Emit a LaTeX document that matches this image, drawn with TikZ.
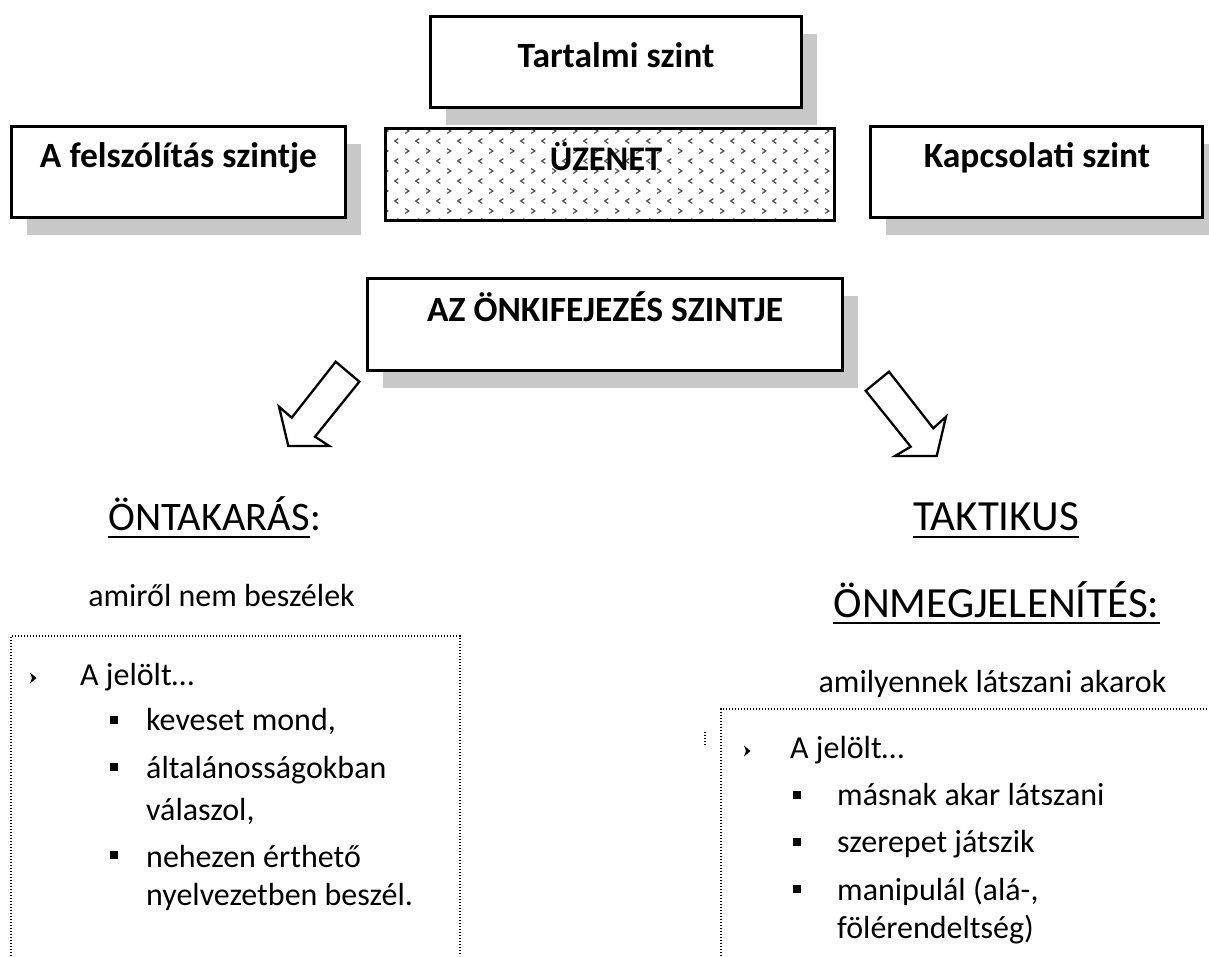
\documentclass[tikz,border=0pt]{standalone}
\usepackage{fontspec}
\setmainfont{Carlito}
\usetikzlibrary{shadows,calc}
\definecolor{shadowgray}{RGB}{200,200,200}
\definecolor{dotgray}{RGB}{85,85,85}
\begin{document}
\begin{tikzpicture}[x=1pt,y=-1pt,
  levelbox/.style={draw=black, line width=2.6pt, fill=white, inner sep=0pt,
    drop shadow={shadow xshift=15pt, shadow yshift=-17pt, fill=shadowgray, opacity=1}},
  plainbox/.style={draw=black, line width=2.6pt, inner sep=0pt},
  boxtitle/.style={font=\fontsize{35.5}{42}\selectfont\bfseries, anchor=base, inner sep=0pt},
  heading/.style={font=\fontsize{40.5}{48}\selectfont, inner sep=0pt},
  bigheading/.style={font=\fontsize{43}{50}\selectfont, inner sep=0pt},
  bodytext/.style={font=\fontsize{32}{38}\selectfont, inner sep=0pt, anchor=base west},
  ulinestyle/.style={line width=2.3pt},
  dotline/.style={line width=1.3pt, dash pattern=on 1.3pt off 1.7pt},
  blockarrow/.style={draw=black, line width=2.3pt, fill=white, line join=miter},
  sqbullet/.style={fill=black, minimum size=8pt, inner sep=0pt},
]
\useasboundingbox (0,0) rectangle (1209,956);

% --- top row of level boxes ---
\node[levelbox, minimum width=371pt, minimum height=91pt] (tartalmi) at (616,62) {};
\node[boxtitle] (tartalmiT) at (616,67) {Tartalmi szint};

\node[levelbox, minimum width=334pt, minimum height=91pt] (felszol) at (178.5,172) {};
\node[boxtitle] (felszolT) at (178.5,167) {A felszólítás szintje};

\node[levelbox, minimum width=332pt, minimum height=91pt] (kapcs) at (1036.5,172) {};
\node[boxtitle] (kapcsT) at (1037,167) {Kapcsolati szint};

% message box with chevron fill
\node[fill=white, minimum width=449pt, minimum height=92pt, inner sep=0pt] (uzenet) at (610,174.5) {};
\begin{scope}
  \clip (uzenet.south west) rectangle (uzenet.north east);
  \foreach \r in {0,...,9} {
    \foreach \c in {0,...,22} {
      \pgfmathsetmacro{\xx}{386 + 21*\c + 10.5*mod(\r,2)}
      \pgfmathsetmacro{\yy}{131 + 10*\r}
      \ifodd\r
        \draw[dotgray, line width=1.3pt] (\xx+1.8,\yy-2.4) -- (\xx-1.8,\yy) -- (\xx+1.8,\yy+2.4);
      \else
        \draw[dotgray, line width=1.3pt] (\xx-1.8,\yy-2.4) -- (\xx+1.8,\yy) -- (\xx-1.8,\yy+2.4);
      \fi
    }
  }
\end{scope}
\node[plainbox, minimum width=449pt, minimum height=92pt] (uzenetB) at (610,174.5) {};
\node[font=\fontsize{34.5}{40}\selectfont\bfseries, anchor=base, inner sep=0pt] (uzenetT) at (606,170) {ÜZENET};

% --- self-expression box ---
\node[levelbox, minimum width=475pt, minimum height=92pt] (onki) at (605,324.5) {};
\node[boxtitle] (onkiT) at (605,321) {AZ ÖNKIFEJEZÉS SZINTJE};

% --- block arrows ---
\draw[blockarrow] (335.7,361.7) -- (359.3,381.7) -- (315,436.7) -- (329.3,446)
  -- (288.3,446) -- (279,406.7) -- (291.7,417.7) -- cycle;
\draw[blockarrow] (865.7,390.7) -- (889,371.7) -- (933.3,428.3) -- (946,416.7)
  -- (936.7,456) -- (895,456) -- (910.7,446.7) -- cycle;

% --- left column ---
\node[heading, anchor=base west] (ontak) at (108,530) {ÖNTAKARÁS};
\node[heading, anchor=base west] (ontakC) at (ontak.base east) {:};
\draw[ulinestyle] ([yshift=-7pt]ontak.base west) -- ([yshift=-7pt]ontak.base east);
\node[font=\fontsize{32}{38}\selectfont, anchor=base, inner sep=0pt] (amirol) at (221.5,606) {amiről nem beszélek};

\draw[dotline] (11,956) -- (11,636) -- (460,636) -- (460,956);
\coordinate (lb) at (33,678);
\fill (lb) ++(-3,-5.5) -- ++(6.5,5.5) -- ++(-6.5,5.5) -- ++(2,-5.5) -- cycle;
\node[bodytext] (ljel) at (80,685) {A jelölt…};
\node[sqbullet] (ls1) at (114,720) {};
\node[bodytext] (lt1) at (146,730) {keveset mond,};
\node[sqbullet] (ls2) at (114,767) {};
\node[bodytext] (lt2) at (146,778) {általánosságokban};
\node[bodytext] (lt2b) at (146,820) {válaszol,};
\node[sqbullet] (ls3) at (114,855) {};
\node[bodytext] (lt3) at (146,867) {nehezen érthető};
\node[bodytext] (lt3b) at (146,905) {nyelvezetben beszél.};

% --- right column ---
\node[bigheading, anchor=base] (takt) at (996,530) {TAKTIKUS};
\draw[ulinestyle] ([yshift=-7pt]takt.base west) -- ([yshift=-7pt]takt.base east);
\node[bigheading, anchor=base] (onmeg) at (996.5,617) {ÖNMEGJELENÍTÉS:};
\draw[ulinestyle] ([yshift=-6pt]onmeg.base west) -- ([yshift=-6pt]onmeg.base east);
\node[font=\fontsize{32}{38}\selectfont, anchor=base, inner sep=0pt] (amily) at (992.5,692) {amilyennek látszani akarok};

\draw[dotline] (721,956) -- (721,709) -- (1209,709);
\draw[dotline] (705,732) -- (705,746);
\coordinate (rb) at (747,751);
\fill (rb) ++(-3,-5.5) -- ++(6.5,5.5) -- ++(-6.5,5.5) -- ++(2,-5.5) -- cycle;
\node[bodytext] (rjel) at (790,758) {A jelölt…};
\node[sqbullet] (rs1) at (797,795) {};
\node[bodytext] (rt1) at (837,805) {másnak akar látszani};
\node[sqbullet] (rs2) at (797,842) {};
\node[bodytext] (rt2) at (837,852) {szerepet játszik};
\node[sqbullet] (rs3) at (797,889) {};
\node[bodytext] (rt3) at (837,900) {manipulál (alá-,};
\node[bodytext] (rt3b) at (837,938) {fölérendeltség)};
\end{tikzpicture}
\end{document}
